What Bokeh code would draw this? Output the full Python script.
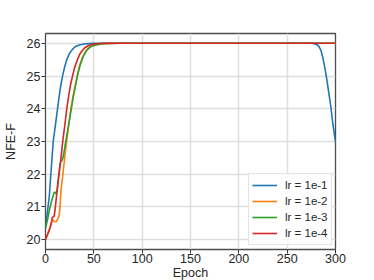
from bokeh.plotting import figure
from bokeh.models import Range1d, SingleIntervalTicker, Legend, LegendItem
from bokeh.embed import file_html
from bokeh.resources import INLINE

labels = ["lr = 1e-1", "lr = 1e-2", "lr = 1e-3", "lr = 1e-4"]
colors = ["#1f77b4", "#ff7f0e", "#2ca02c", "#d62728"]

ep_1e1 = [0, 2, 4, 6, 8, 10, 12, 14, 16, 18, 20, 22, 25, 28, 31, 35, 40, 45, 50, 60, 100, 150, 200, 250, 275, 278, 281, 283, 285, 287, 289, 291, 293, 295, 297, 300]
nfe_1e1 = [20.4, 20.85, 21.35, 22.2, 23.0, 23.45, 23.9, 24.35, 24.75, 25.05, 25.3, 25.5, 25.7, 25.82, 25.9, 25.95, 25.98, 25.99, 26.0, 26.0, 26.0, 26.0, 26.0, 26.0, 26.0, 25.99, 25.96, 25.9, 25.78, 25.55, 25.25, 24.9, 24.5, 24.1, 23.6, 22.98]

ep_1e2 = [0, 2, 4, 6, 7, 8, 9, 10, 11, 12, 13, 14, 15, 16, 18, 20, 22, 24, 26, 28, 30, 32, 35, 38, 42, 46, 52, 60, 75, 300]
nfe_1e2 = [20.0, 20.15, 20.3, 20.5, 20.62, 20.6, 20.55, 20.55, 20.55, 20.6, 20.65, 20.72, 21.0, 21.5, 22.0, 22.55, 23.05, 23.5, 23.95, 24.3, 24.6, 24.9, 25.3, 25.55, 25.78, 25.9, 25.96, 25.99, 26.0, 26.0]

ep_1e3 = [0, 2, 4, 6, 8, 9, 10, 11, 12, 13, 15, 16, 17, 18, 19, 21, 23, 25, 27, 29, 31, 33, 36, 39, 43, 47, 53, 60, 75, 300]
nfe_1e3 = [20.35, 20.6, 20.9, 21.15, 21.35, 21.45, 21.45, 21.4, 21.5, 21.8, 22.3, 22.4, 22.42, 22.5, 22.65, 23.0, 23.35, 23.7, 24.05, 24.4, 24.7, 25.0, 25.35, 25.6, 25.8, 25.9, 25.96, 25.99, 26.0, 26.0]

ep_1e4 = [0, 2, 4, 6, 7, 8, 9, 10, 12, 14, 16, 18, 20, 22, 24, 26, 28, 30, 33, 36, 40, 45, 50, 60, 80, 300]
nfe_1e4 = [20.0, 20.15, 20.3, 20.5, 20.67, 20.7, 20.72, 20.95, 21.5, 22.0, 22.5, 23.05, 23.5, 24.0, 24.4, 24.75, 25.0, 25.25, 25.5, 25.7, 25.85, 25.94, 25.98, 26.0, 26.0, 26.0]

xs = [ep_1e1, ep_1e2, ep_1e3, ep_1e4]
ys = [nfe_1e1, nfe_1e2, nfe_1e3, nfe_1e4]

FONT = "Liberation Sans"
TXT = "#262626"

p = figure(frame_width=290, frame_height=216, output_backend="svg", toolbar_location=None,
           x_range=Range1d(0, 300), y_range=Range1d(19.7, 26.3),
           min_border_left=38, min_border_right=30, min_border_top=33, min_border_bottom=20)
p.background_fill_color = "white"
p.border_fill_color = "white"
p.outline_line_color = "#4d4d4d"
p.outline_line_width = 1.3

p.xaxis.ticker = SingleIntervalTicker(interval=50)
p.yaxis.ticker = SingleIntervalTicker(interval=1)
for ax in (p.xaxis, p.yaxis):
    ax.axis_line_color = None
    ax.major_tick_line_color = "#333333"
    ax.major_tick_line_width = 1
    ax.major_tick_out = 4
    ax.major_tick_in = 0
    ax.minor_tick_line_color = None
    ax.major_label_text_font = FONT
    ax.major_label_text_font_size = "12.5px"
    ax.major_label_text_color = TXT
    ax.axis_label_text_font = FONT
    ax.axis_label_text_font_size = "12.5px"
    ax.axis_label_text_font_style = "normal"
    ax.axis_label_text_color = TXT
p.xaxis.axis_label = "Epoch"
p.yaxis.axis_label = "NFE-F"
p.xaxis.major_label_standoff = 0
p.yaxis.major_label_standoff = 1
p.xaxis.axis_label_standoff = 0
p.yaxis.axis_label_standoff = 6

p.grid.grid_line_color = "#dedede"
p.grid.grid_line_width = 1.5

items = []
for x, y, c, lab in zip(xs, ys, colors, labels):
    r = p.line(x, y, line_color=c, line_width=1.6)
    items.append(LegendItem(label=lab, renderers=[r]))

legend = Legend(items=items, location=(203, 4))
legend.label_text_font = FONT
legend.label_text_font_size = "11.5px"
legend.label_text_color = TXT
legend.glyph_width = 25
legend.glyph_height = 16
legend.label_height = 16
legend.label_standoff = 8
legend.spacing = 0
legend.padding = 3
legend.margin = 0
legend.border_line_color = "#cccccc"
legend.border_line_width = 1
legend.background_fill_color = "white"
legend.background_fill_alpha = 0.85
p.add_layout(legend)

open("out.html", "w").write(file_html(p, INLINE))
